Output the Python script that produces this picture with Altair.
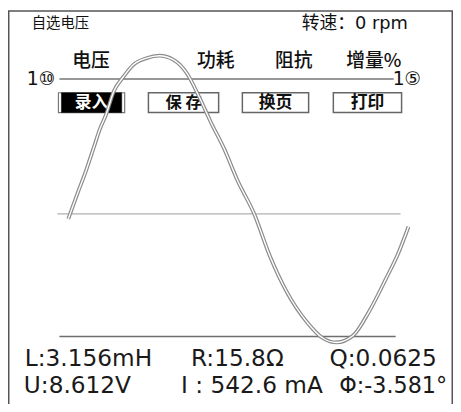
import altair as alt
import pandas as pd

# ---- data ----
# waveform: sample position (screen columns) and level (divisions)
curve_x = [11, 20, 29, 37, 43, 49, 57, 67, 77, 90, 103, 117, 131, 143, 155, 169,
           182, 199, 215, 232, 252, 269, 282, 299, 315, 332, 345, 355]
curve_y = [-0.5, 2.0, 4.4, 6.8, 8.6, 10.0, 12.4, 13.9, 15.1, 15.75, 16.0, 15.6,
           14.2, 11.9, 9.3, 6.5, 3.4, 0.0, -4.3, -7.9, -10.9, -12.6, -13.0, -12.3,
           -9.9, -6.6, -3.9, -1.3]

# reference lines: start, end, level
top_line = [2, 340, 13.65]
mid_line = [0, 347, 0.0]
bot_line = [2, 342, -12.4]

title_left = "自选电压"
title_right = "转速：0 rpm"
header_labels = ["电压", "功耗", "阻抗", "增量%"]
scale_left = "1⑩"
scale_right = "1⑤"
button_labels = ["录入", "保 存", "换页", "打印"]
readings_row1 = ["L:3.156mH", "R:15.8Ω", "Q:0.0625"]
readings_row2 = ["U:8.612V", "I : 542.6 mA", "Φ:-3.581°"]

W, H = 450, 396
xs = alt.Scale(domain=[-50, 400], nice=False, zero=False)
ys = alt.Scale(domain=[-19.0, 20.6], nice=False, zero=False)

CJK = "Noto Sans CJK SC"
LAT = "DejaVu Sans, Noto Sans CJK SC"

curve_df = pd.DataFrame({"x": curve_x, "y": curve_y})


def line_layer(spec, color, width):
    df = pd.DataFrame({"x": [spec[0]], "x2": [spec[1]], "y": [spec[2]]})
    return alt.Chart(df).mark_rule(color=color, strokeWidth=width).encode(
        x=alt.X("x:Q", scale=xs, axis=None),
        x2="x2:Q",
        y=alt.Y("y:Q", scale=ys, axis=None),
    )


def text_layer(label, px, py, size, font, color="#111", align="left",
               baseline="middle", weight="normal"):
    return alt.Chart(alt.Data(values=[{"t": label}])).mark_text(
        font=font, fontSize=size, color=color, align=align, baseline=baseline,
        fontWeight=weight,
    ).encode(text="t:N", x=alt.value(px), y=alt.value(py))


def box_layer(x0, x1, y0, y1, fill, stroke, sw):
    return alt.Chart(alt.Data(values=[{"k": 1}])).mark_rect(
        fill=fill, stroke=stroke, strokeWidth=sw
    ).encode(x=alt.value(x0), x2=alt.value(x1), y=alt.value(y0), y2=alt.value(y1))


layers = []
# frame
layers.append(box_layer(0.75, W - 0.75, 0.75, H + 20, "white", "#555", 1.5))

# reference lines
layers.append(line_layer(mid_line, "#b0b0b0", 1.2))
layers.append(line_layer(bot_line, "#6e6e6e", 1.6))
layers.append(line_layer(top_line, "#333333", 1.1))

# buttons
btn_x = [(51, 118), (142, 213), (237, 304), (329, 398)]
for i, (lab, (a, b)) in enumerate(zip(button_labels, btn_x)):
    if i == 0:
        layers.append(box_layer(a, b, 83.5, 103.5, "white", "#777", 1.2))
        layers.append(box_layer(a + 3, b - 3, 83.5, 103.5, "black", "black", 0.5))
        layers.append(text_layer(lab, (a + b) / 2, 93.5, 17, CJK, color="white",
                                 align="center", weight="bold"))
    else:
        layers.append(box_layer(a, b, 83.5, 103.5, "white", "#666", 1.5))
        layers.append(text_layer(lab, (a + b) / 2, 93.5, 17 if i != 1 else 16.5,
                                 CJK, color="#111", align="center", weight="bold"))

# waveform: double trace (grey band with white core)
layers.append(alt.Chart(curve_df).mark_line(
    color="#8a8a8a", strokeWidth=3.8, interpolate="monotone").encode(
    x=alt.X("x:Q", scale=xs, axis=None), y=alt.Y("y:Q", scale=ys, axis=None)))
layers.append(alt.Chart(curve_df).mark_line(
    color="white", strokeWidth=1.4, interpolate="monotone").encode(
    x=alt.X("x:Q", scale=xs, axis=None), y=alt.Y("y:Q", scale=ys, axis=None)))

# top texts
layers.append(text_layer(title_left, 24, 13.5, 14.5, CJK))
layers.append(text_layer(title_right, 297, 14, 18, LAT))
for lab, cx in zip(header_labels, [84, 210, 289, 370]):
    layers.append(text_layer(lab, cx, 51, 19, CJK, align="center", weight=500))
layers.append(text_layer(scale_left, 19, 69.5, 19, LAT))
layers.append(text_layer(scale_right, 389, 69.5, 19, LAT))

# readings
for lab, px in zip(readings_row1, [17, 185, 325]):
    layers.append(text_layer(lab, px, 360, 23.5, LAT, color="#1a1a1a",
                             baseline="alphabetic"))
for lab, px, sz in zip(readings_row2, [16, 175, 335], [23.5, 23.5, 22.5]):
    layers.append(text_layer(lab, px, 387, sz, LAT, color="#1a1a1a",
                             baseline="alphabetic"))

chart = alt.layer(*layers).properties(
    width=W, height=H, padding=0, autosize=alt.AutoSizeParams(type="none"),
    background="white",
).configure_view(strokeWidth=0)

chart.save("out.html", embed_options={"renderer": "svg", "actions": False})
